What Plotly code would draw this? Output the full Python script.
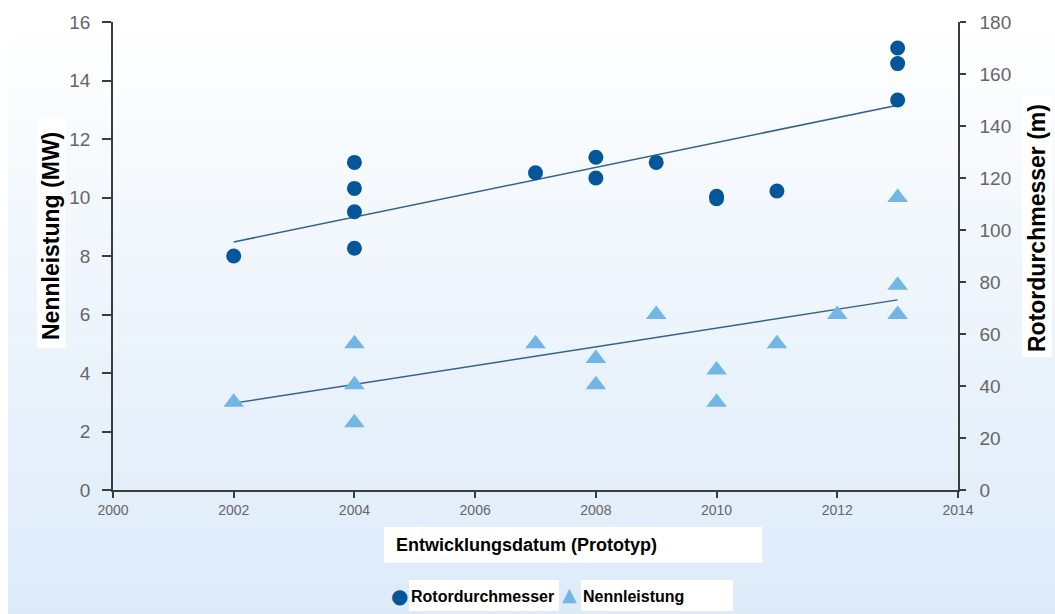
import numpy as np
import plotly.graph_objects as go

# ---------------- data ----------------
rotor_years = [2002, 2004, 2004, 2004, 2004, 2007, 2008, 2008, 2009, 2010, 2010, 2011, 2013, 2013, 2013]
rotor_m = [90, 126, 116, 107, 93, 122, 128, 120, 126, 113, 112, 115, 170, 164, 150]

power_years = [2002, 2004, 2004, 2004, 2007, 2008, 2008, 2009, 2010, 2010, 2011, 2012, 2013, 2013, 2013]
power_mw = [3.0, 5.0, 3.6, 2.3, 5.0, 4.5, 3.6, 6.0, 4.1, 3.0, 5.0, 6.0, 10.0, 7.0, 6.0]

trend_years = [2002, 2013]
rotor_trend = [95.4, 148.0]
power_trend = [2.97, 6.5]

x_ticks = [2000, 2002, 2004, 2006, 2008, 2010, 2012, 2014]
left_ticks = [0, 2, 4, 6, 8, 10, 12, 14, 16]
right_ticks = [0, 20, 40, 60, 80, 100, 120, 140, 160, 180]

# ---------------- layout geometry ----------------
W, H = 1055, 614
L, R, T, B = 113, 97, 22, 124
PW, PH = W - L - R, H - T - B


def px(x):
    return (x - L) / PW


def py(y):
    return (H - B - y) / PH


CIRCLE = "#04569b"
TRI = "#72b6e6"
LINE = "#34618e"
AX = "#3c3c3c"
TICKF = "#666666"
FONT = "Liberation Sans"

fig = go.Figure()

fig.add_trace(go.Scatter(
    x=trend_years, y=rotor_trend, mode="lines", yaxis="y2",
    line=dict(color=LINE, width=1.5), showlegend=False, hoverinfo="skip"))
fig.add_trace(go.Scatter(
    x=trend_years, y=power_trend, mode="lines", yaxis="y",
    line=dict(color=LINE, width=1.5), showlegend=False, hoverinfo="skip"))

fig.add_trace(go.Scatter(
    x=rotor_years, y=rotor_m, mode="markers", yaxis="y2", name="Rotordurchmesser",
    marker=dict(symbol="circle", size=15, color=CIRCLE), showlegend=False))
fig.add_trace(go.Scatter(
    x=power_years, y=power_mw, mode="markers", yaxis="y", name="Nennleistung",
    marker=dict(symbol="triangle-up", size=18, color=TRI), showlegend=False))

# ---------------- background gradient ----------------
shapes = []
top_c = np.array([255, 255, 255])
bot_c = np.array([221, 235, 249])
n = 60
edges = np.linspace(0, H, n + 1)
for i in range(n):
    y0, y1 = edges[i], edges[i + 1]
    t = np.clip(((y0 + y1) / 2 - 30) / (H - 30), 0, 1) ** 0.9
    c = (top_c * (1 - t) + bot_c * t).round().astype(int)
    shapes.append(dict(type="rect", xref="paper", yref="paper", layer="below",
                       x0=px(8), x1=px(W), y0=py(y1), y1=py(y0) + 0.001,
                       fillcolor=f"rgb({c[0]},{c[1]},{c[2]})", line=dict(width=0)))

# white boxes behind labels
boxes = [
    (37, 118, 65, 348),
    (1022, 95, 1052, 357),
    (384, 527, 762, 563),
    (409, 580, 559, 611),
    (581, 580, 733, 611),
]
for x0, y0, x1, y1 in boxes:
    shapes.append(dict(type="rect", xref="paper", yref="paper", layer="below",
                       x0=px(x0), x1=px(x1), y0=py(y1), y1=py(y0),
                       fillcolor="white", line=dict(width=0)))

annotations = [
    dict(text="<b>Nennleistung (MW)</b>", x=px(51), y=py(236), textangle=-90,
         font=dict(family=FONT, size=23, color="black")),
    dict(text="<b>Rotordurchmesser (m)</b>", x=px(1037), y=py(228), textangle=-90,
         font=dict(family=FONT, size=23, color="black")),
    dict(text="<b>Entwicklungsdatum (Prototyp)</b>", x=px(395), y=py(545), xanchor="left",
         font=dict(family=FONT, size=18, color="black")),
    dict(text="●", x=px(399), y=py(596), font=dict(family="DejaVu Sans", size=20, color=CIRCLE)),
    dict(text="<b>Rotordurchmesser</b>", x=px(410), y=py(596), xanchor="left",
         font=dict(family=FONT, size=16, color="black")),
    dict(text="▲", x=px(569), y=py(594), font=dict(family="DejaVu Sans", size=19, color=TRI)),
    dict(text="<b>Nennleistung</b>", x=px(582), y=py(596), xanchor="left",
         font=dict(family=FONT, size=16, color="black")),
]
for a in annotations:
    a.update(xref="paper", yref="paper", showarrow=False, borderpad=0)
    a.setdefault("xanchor", "center")
    a.setdefault("yanchor", "middle")

fig.update_layout(
    width=W, height=H,
    margin=dict(l=L, r=R, t=T, b=B, pad=0),
    paper_bgcolor="white",
    plot_bgcolor="rgba(0,0,0,0)",
    font=dict(family=FONT, color=TICKF),
    shapes=shapes,
    annotations=annotations,
    showlegend=False,
    xaxis=dict(range=[2000, 2014], tickvals=x_ticks, showgrid=False, zeroline=False,
               showline=True, linecolor=AX, linewidth=1.5, ticks="outside", ticklen=6,
               tickcolor=AX, tickwidth=1.5, tickfont=dict(size=14, color=TICKF)),
    yaxis=dict(range=[0, 16], tickvals=left_ticks, showgrid=False, zeroline=False,
               showline=True, linecolor=AX, linewidth=1.5, ticks="outside", ticklen=9,
               tickcolor=AX, tickwidth=1.5, ticklabelstandoff=8,
               tickfont=dict(size=19, color=TICKF)),
    yaxis2=dict(range=[0, 180], tickvals=right_ticks, overlaying="y", side="right",
                showgrid=False, zeroline=False, showline=True, linecolor=AX, linewidth=1.5,
                ticks="outside", ticklen=6, tickcolor=AX, tickwidth=1.5, ticklabelstandoff=10,
                tickfont=dict(size=19, color=TICKF)),
)

fig.write_html("out.html", config={"displayModeBar": False},
               post_script="document.body.style.margin='0';document.body.style.padding='0';")
